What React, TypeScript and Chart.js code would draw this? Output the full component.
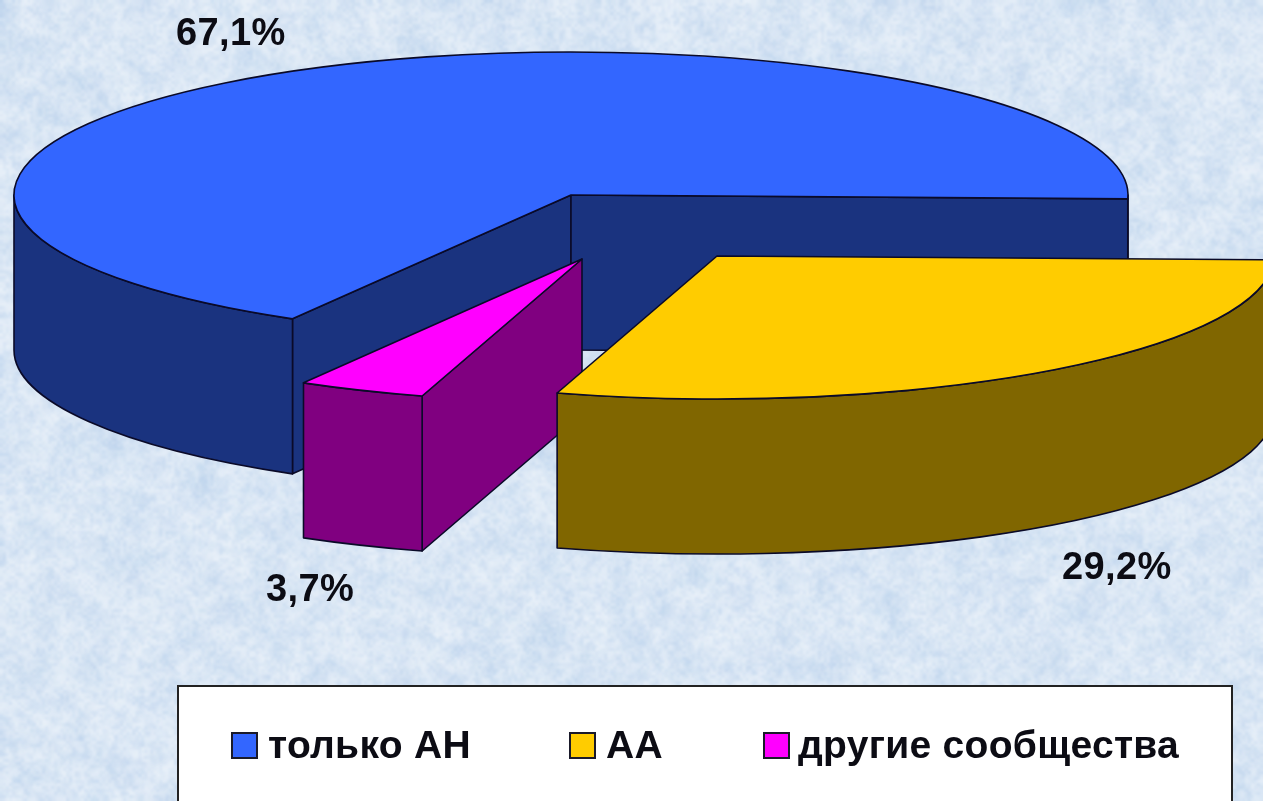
import React, { useEffect, useRef } from "react";
import { Chart, registerables } from "chart.js";

Chart.register(...registerables);

const categories = ["только АН", "АА", "другие сообщества"];
const shares = [67.1, 29.2, 3.7];
const valueLabels = ["67,1%", "29,2%", "3,7%"];

const topColors = ["#3366ff", "#ffcc00", "#ff00ff"];
const wallColors = ["#1a337f", "#806600", "#800080"];

const W = 1263;
const H = 801;
const RX = 557;
const RY = 143;
const DEPTH = 155;
const apexes = [
  { x: 571, y: 195 },
  { x: 717, y: 256 },
  { x: 582, y: 259 },
];
const paintOrder = [0, 2, 1];
const labelSpots = [
  { x: 176, y: 45 },
  { x: 1062, y: 579 },
  { x: 266, y: 601 },
];
const FONT = '"Liberation Sans", Arial, sans-serif';
const OUTLINE = "#0a0a28";

function paintTexture(ctx: CanvasRenderingContext2D) {
  ctx.fillStyle = "#dce8f5";
  ctx.fillRect(0, 0, W, H);
  const layers = [
    { w: 70, h: 45, amp: 13, seed: 12.9898 },
    { w: 210, h: 133, amp: 11, seed: 39.346 },
    { w: 420, h: 267, amp: 8, seed: 73.156 },
  ];
  ctx.save();
  ctx.imageSmoothingEnabled = true;
  ctx.imageSmoothingQuality = "high";
  for (const l of layers) {
    const off = document.createElement("canvas");
    off.width = l.w;
    off.height = l.h;
    const o = off.getContext("2d")!;
    const img = o.createImageData(l.w, l.h);
    for (let j = 0; j < l.h; j++) {
      for (let i = 0; i < l.w; i++) {
        const s = Math.sin(i * l.seed + j * 78.233) * 43758.5453;
        const n = s - Math.floor(s);
        const p = (j * l.w + i) * 4;
        const dark = n < 0.5;
        img.data[p] = dark ? 150 : 255;
        img.data[p + 1] = dark ? 185 : 255;
        img.data[p + 2] = dark ? 225 : 255;
        img.data[p + 3] = Math.abs(n - 0.5) * 2 * l.amp * 4;
      }
    }
    o.putImageData(img, 0, 0);
    ctx.drawImage(off, 0, 0, W, H);
  }
  ctx.restore();
}

function wallRanges(a0: number, a1: number) {
  const out: [number, number][] = [];
  for (let k = -1; k <= 1; k++) {
    const lo = Math.max(a0, k * 2 * Math.PI);
    const hi = Math.min(a1, k * 2 * Math.PI + Math.PI);
    if (hi > lo) out.push([lo, hi]);
  }
  return out;
}

const pie3d = {
  id: "pie3d",
  beforeDraw(chart: any) {
    paintTexture(chart.ctx);
  },
  beforeDatasetDraw(chart: any, args: any) {
    const ctx: CanvasRenderingContext2D = chart.ctx;
    const arcs = chart.getDatasetMeta(args.index).data;
    ctx.save();
    ctx.lineWidth = 1.6;
    ctx.strokeStyle = OUTLINE;
    ctx.lineJoin = "round";
    for (const i of paintOrder) {
      const arc = arcs[i];
      const { x: ax, y: ay } = apexes[i];
      const a0 = arc.startAngle;
      const a1 = arc.endAngle;
      const px = (t: number) => ax + RX * Math.cos(t);
      const py = (t: number) => ay + RY * Math.sin(t);
      ctx.fillStyle = wallColors[i];

      const radialWall = (t: number) => {
        ctx.beginPath();
        ctx.moveTo(ax, ay);
        ctx.lineTo(px(t), py(t));
        ctx.lineTo(px(t), py(t) + DEPTH);
        ctx.lineTo(ax, ay + DEPTH);
        ctx.closePath();
        ctx.fill();
        ctx.stroke();
      };
      if (-Math.cos(a0) > 0) radialWall(a0);
      if (Math.cos(a1) > 0) radialWall(a1);

      for (const [lo, hi] of wallRanges(a0, a1)) {
        ctx.beginPath();
        ctx.ellipse(ax, ay, RX, RY, 0, lo, hi);
        ctx.lineTo(px(hi), py(hi) + DEPTH);
        ctx.ellipse(ax, ay + DEPTH, RX, RY, 0, hi, lo, true);
        ctx.closePath();
        ctx.fill();
        ctx.stroke();
      }

      // the slice's top face: the library's own arc, flattened onto the ellipse
      ctx.save();
      ctx.translate(ax, ay);
      ctx.scale(RX / arc.outerRadius, RY / arc.outerRadius);
      ctx.translate(-arc.x, -arc.y);
      arc.draw(ctx);
      ctx.restore();

      ctx.beginPath();
      ctx.moveTo(ax, ay);
      ctx.ellipse(ax, ay, RX, RY, 0, a0, a1);
      ctx.closePath();
      ctx.stroke();
    }
    ctx.restore();
    return false;
  },
  afterDatasetsDraw(chart: any) {
    const ctx: CanvasRenderingContext2D = chart.ctx;
    ctx.save();
    ctx.fillStyle = "#0c0c14";
    ctx.textAlign = "left";
    ctx.textBaseline = "alphabetic";
    ctx.font = `bold 38px ${FONT}`;
    (ctx as any).letterSpacing = "0.4px";
    valueLabels.forEach((t, i) => ctx.fillText(t, labelSpots[i].x, labelSpots[i].y));

    // legend
    ctx.fillStyle = "#ffffff";
    ctx.fillRect(178, 686, 1054, 130);
    ctx.strokeStyle = "#222222";
    ctx.lineWidth = 2;
    ctx.strokeRect(178, 686, 1054, 130);
    ctx.font = `bold 39px ${FONT}`;
    (ctx as any).letterSpacing = "0.3px";
    const boxes = [232, 570, 764];
    const texts = [268, 606, 798];
    categories.forEach((c, i) => {
      ctx.fillStyle = topColors[i];
      ctx.fillRect(boxes[i], 733, 25, 25);
      ctx.strokeStyle = "#1a1a2a";
      ctx.lineWidth = 2;
      ctx.strokeRect(boxes[i], 733, 25, 25);
      ctx.fillStyle = "#0c0c14";
      ctx.fillText(c, texts[i], 758);
    });
    ctx.restore();
  },
};

export default function App() {
  const ref = useRef<HTMLCanvasElement>(null);
  useEffect(() => {
    const chart = new Chart(ref.current!, {
      type: "pie",
      data: {
        labels: categories,
        datasets: [
          {
            data: shares,
            backgroundColor: topColors,
            borderWidth: 0,
          },
        ],
      },
      options: {
        responsive: false,
        animation: false,
        rotation: 210,
        layout: { padding: 0 },
        plugins: {
          legend: { display: false },
          tooltip: { enabled: false },
        },
      },
      plugins: [pie3d],
    } as any);
    return () => chart.destroy();
  }, []);
  return (
    <div style={{ position: "fixed", left: 0, top: 0, width: W, height: H, overflow: "hidden" }}>
      <canvas ref={ref} width={W} height={H} style={{ display: "block" }} />
    </div>
  );
}
